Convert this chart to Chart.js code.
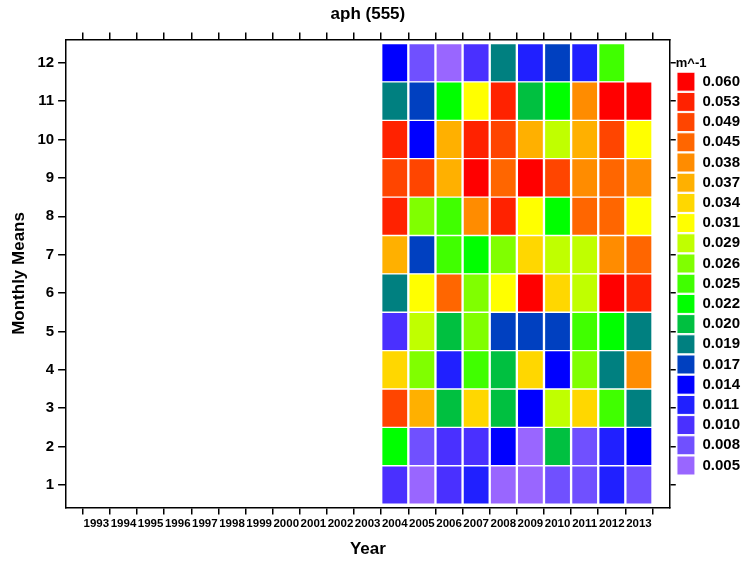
<!DOCTYPE html>
<html>
<head>
<meta charset="utf-8">
<script src="https://cdn.jsdelivr.net/npm/chart.js@4"></script>
<style>
html,body{margin:0;padding:0;background:#fff;}
#wrap{width:755px;height:562px;}
</style>
</head>
<body>
<div id="wrap"><canvas id="c" width="755" height="562"></canvas></div>
<script>
// ---- data ----
const years = [2004, 2005, 2006, 2007, 2008, 2009, 2010, 2011, 2012, 2013];
const months = [1, 2, 3, 4, 5, 6, 7, 8, 9, 10, 11, 12];
const axisYears = [1993, 1994, 1995, 1996, 1997, 1998, 1999, 2000, 2001, 2002, 2003,
                   2004, 2005, 2006, 2007, 2008, 2009, 2010, 2011, 2012, 2013];
const levels = [0.060, 0.053, 0.049, 0.045, 0.038, 0.037, 0.034, 0.031, 0.029, 0.026,
                0.025, 0.022, 0.020, 0.019, 0.017, 0.014, 0.011, 0.010, 0.008, 0.005];
const levelColors = ['#FF0000', '#FF2200', '#FF4500', '#FF6600', '#FF8C00', '#FFB000', '#FFD700', '#FFFF00', '#C0FF00', '#80FF00',
                     '#40FF00', '#00FF00', '#00C040', '#008080', '#0040C0', '#0000FF', '#2020FF', '#4A30FF', '#7050FF', '#9966FF'];

// values per month, for years 2004..2013 (m^-1)
const m1  = [0.010, 0.005, 0.010, 0.011, 0.005, 0.005, 0.008, 0.008, 0.011, 0.008];
const m2  = [0.022, 0.008, 0.010, 0.010, 0.014, 0.005, 0.020, 0.008, 0.011, 0.014];
const m3  = [0.049, 0.037, 0.020, 0.034, 0.020, 0.014, 0.029, 0.034, 0.025, 0.019];
const m4  = [0.034, 0.026, 0.011, 0.025, 0.020, 0.034, 0.014, 0.026, 0.019, 0.038];
const m5  = [0.010, 0.029, 0.020, 0.026, 0.017, 0.017, 0.017, 0.025, 0.022, 0.019];
const m6  = [0.019, 0.031, 0.045, 0.026, 0.031, 0.060, 0.034, 0.029, 0.060, 0.053];
const m7  = [0.037, 0.017, 0.025, 0.022, 0.026, 0.034, 0.029, 0.029, 0.038, 0.045];
const m8  = [0.053, 0.026, 0.025, 0.038, 0.053, 0.031, 0.022, 0.045, 0.045, 0.031];
const m9  = [0.049, 0.049, 0.037, 0.060, 0.045, 0.060, 0.049, 0.038, 0.045, 0.038];
const m10 = [0.053, 0.014, 0.037, 0.053, 0.049, 0.037, 0.029, 0.037, 0.049, 0.031];
const m11 = [0.019, 0.017, 0.022, 0.031, 0.053, 0.020, 0.022, 0.038, 0.060, 0.060];
const m12 = [0.014, 0.008, 0.005, 0.010, 0.019, 0.011, 0.017, 0.011, 0.025, null];
const monthValues = [m1, m2, m3, m4, m5, m6, m7, m8, m9, m10, m11, m12];

// ---- helpers ----
function colorFor(v) {
  const i = levels.indexOf(v);
  return i >= 0 ? levelColors[i] : 'rgba(0,0,0,0)';
}
const FONT = "'Liberation Sans', Arial, sans-serif";
Chart.defaults.font.family = FONT;
Chart.defaults.color = '#000';

const datasets = months.map((m, mi) => ({
  label: 'Month ' + m,
  data: years.map((yr, yi) => ({ x: yr, y: [m - 0.5, m + 0.5], v: monthValues[mi][yi] }))
             .filter(d => d.v !== null),
  backgroundColor: ctx => colorFor(ctx.raw ? ctx.raw.v : null),
  borderColor: '#ffffff',
  borderWidth: { top: 1, bottom: 1, left: 1.5, right: 1.5 },
  borderSkipped: false,
  grouped: false,
  barPercentage: 1,
  categoryPercentage: 1,
  xAxisID: 'x',
  yAxisID: 'y'
}));

const X_MIN = 1992.414, X_MAX = 2013.607;
const Y_MIN = 0.413, Y_MAX = 12.608;

const tickGrid = (len) => ({ drawOnChartArea: false, drawTicks: true, tickLength: len, color: '#000', lineWidth: 1.5 });
const blackBorder = { display: true, color: '#000', width: 1.5 };

new Chart(document.getElementById('c'), {
  type: 'bar',
  data: { datasets },
  options: {
    responsive: false,
    animation: false,
    devicePixelRatio: 1,
    layout: { padding: { left: 1, right: 5, top: 0, bottom: 1.3 } },
    scales: {
      x: {
        type: 'linear', position: 'bottom', min: X_MIN, max: X_MAX,
        afterBuildTicks: s => { s.ticks = axisYears.map(v => ({ value: v })); },
        ticks: { autoSkip: false, maxRotation: 0, minRotation: 0, padding: 2,
                 font: { size: 11.5, weight: 'bold' }, color: '#000', callback: v => String(v) },
        grid: tickGrid(7),
        border: blackBorder,
        title: { display: true, text: 'Year', font: { size: 17, weight: 'bold' }, color: '#000',
                 padding: { top: 7, bottom: 1 } }
      },
      x2: {
        type: 'linear', position: 'top', min: X_MIN, max: X_MAX,
        afterBuildTicks: s => { s.ticks = axisYears.map(v => ({ value: v })); },
        ticks: { display: false },
        grid: tickGrid(7),
        border: blackBorder
      },
      y: {
        type: 'linear', position: 'left', min: Y_MIN, max: Y_MAX,
        afterBuildTicks: s => { s.ticks = months.map(v => ({ value: v })); },
        ticks: { padding: 4, font: { size: 15, weight: 'bold' }, color: '#000', callback: v => String(v) },
        grid: tickGrid(8),
        border: blackBorder,
        title: { display: true, text: 'Monthly Means', font: { size: 17, weight: 'bold' }, color: '#000',
                 padding: { top: 8, bottom: 4 } }
      },
      y2: {
        type: 'linear', position: 'right', min: Y_MIN, max: Y_MAX,
        afterBuildTicks: s => { s.ticks = months.map(v => ({ value: v })); },
        ticks: { display: false },
        grid: tickGrid(6),
        border: blackBorder
      }
    },
    plugins: {
      tooltip: { enabled: false },
      title: {
        display: true, text: 'aph (555)', fullSize: false,
        font: { size: 17, weight: 'bold' }, color: '#000',
        padding: { top: 4, bottom: 8 }
      },
      legend: {
        display: true, position: 'right', align: 'start', fullSize: false,
        onClick: null,
        title: { display: true, text: 'm^-1', position: 'start', color: '#000',
                 font: { size: 13, weight: 'bold' }, padding: { top: 18, bottom: -2 } },
        labels: {
          boxWidth: 18, boxHeight: 19, padding: 1.2, color: '#000',
          font: { size: 15, weight: 'bold' },
          generateLabels: () => levels.map((v, i) => ({
            text: v.toFixed(3), fillStyle: levelColors[i], strokeStyle: '#ffffff',
            lineWidth: 1, hidden: false, index: i, fontColor: '#000'
          }))
        }
      }
    }
  }
});
</script>
</body>
</html>
